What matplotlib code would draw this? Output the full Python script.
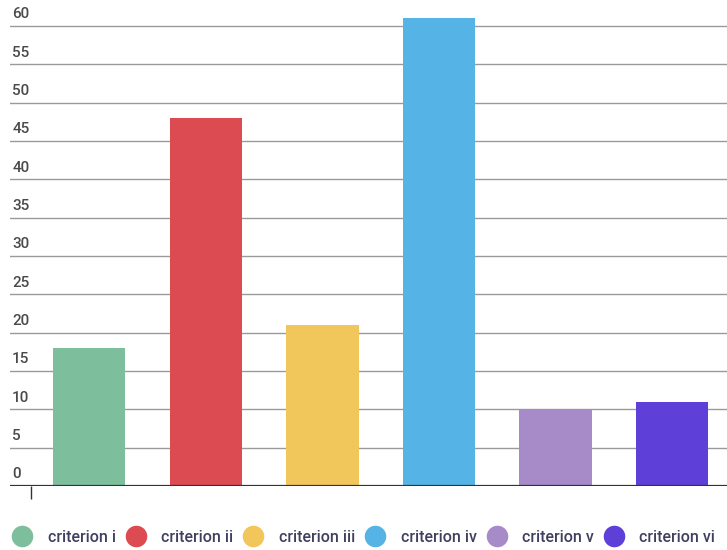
import matplotlib.pyplot as plt
from matplotlib.lines import Line2D
from matplotlib.transforms import blended_transform_factory

plt.rcParams['font.family'] = ['Roboto', 'DejaVu Sans']

categories = ['criterion i', 'criterion ii', 'criterion iii', 'criterion iv', 'criterion v', 'criterion vi']
values = [18, 48, 21, 61, 10, 11]
colors = ['#7dbf9c', '#dc4b52', '#f1c75c', '#55b3e6', '#a68bc8', '#5e40d8']
yticks = [0, 5, 10, 15, 20, 25, 30, 35, 40, 45, 50, 55, 60]

fig = plt.figure(figsize=(7.27, 5.5), dpi=100)
ax = fig.add_axes([10 / 727, 64 / 550, 717 / 727, 486 / 550])

x = list(range(len(categories)))
ax.bar(x, values, width=0.62, color=colors, zorder=2)

ax.set_xlim(-0.68, 5.47)
ax.set_ylim(0, 63.4)

# gridlines with labels sitting above them
trans = blended_transform_factory(ax.transAxes, ax.transData)
for t in yticks:
    if t == 0:
        ax.axhline(0, color='#333333', lw=1.6, zorder=3)
    else:
        ax.axhline(t, color='#9a9a9a', lw=1.0, zorder=1)
    ax.text(0.003, t + 0.6, str(t), transform=trans, ha='left', va='bottom',
            fontsize=11, fontweight='medium', color='#4a4a4a')

ax.set_yticks([])
ax.set_xticks([-0.5])
ax.set_xticklabels([''])
ax.tick_params(axis='x', length=9, width=1, color='#333333', direction='out')
for s in ax.spines.values():
    s.set_visible(False)

handles = [Line2D([], [], marker='o', linestyle='none', markersize=14.5,
                  markerfacecolor=c, markeredgecolor=c) for c in colors]
fig.legend(handles, categories, loc='center', bbox_to_anchor=(0.5, 13 / 550),
           ncol=6, frameon=False, prop={'size': 11.5, 'weight': 'medium'},
           labelcolor='#3f3f5f', handletextpad=0.95, columnspacing=0.6,
           handlelength=1.3)

fig.savefig('out.png', dpi=100)
